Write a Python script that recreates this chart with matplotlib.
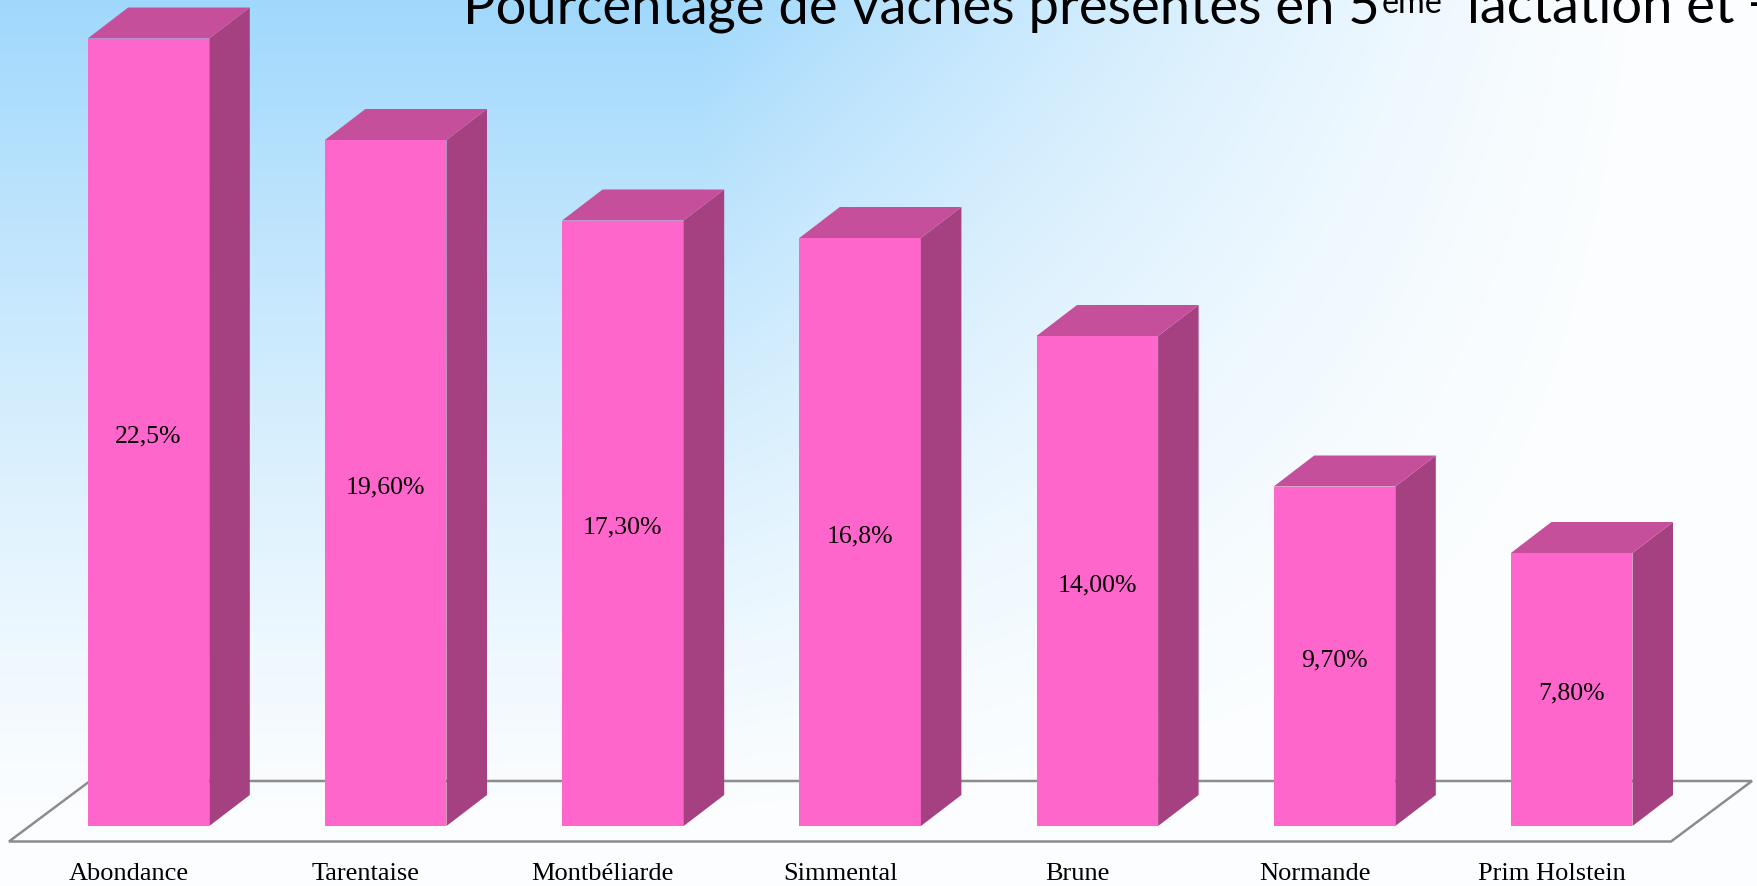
import numpy as np
import matplotlib
matplotlib.use("Agg")
from matplotlib import pyplot as plt
from matplotlib.patches import Polygon

races = ["Abondance", "Tarentaise", "Montbéliarde", "Simmental", "Brune", "Normande", "Prim Holstein"]
pourcent = [22.5, 19.6, 17.3, 16.8, 14.0, 9.7, 7.8]
etiquettes = ["22,5%", "19,60%", "17,30%", "16,8%", "14,00%", "9,70%", "7,80%"]

W, H = 1758, 886
PXX, PXY = 237.2, 35.0      # pixels per category / per percent
X0PX, Y0PX = 148.5, 826.0   # pixel of first bar centre / bar base
front, side, top = "#ff66cc", "#a54180", "#c64f9b"

fig = plt.figure(figsize=(W / 100, H / 100), dpi=100)

# background gradient
yy, xx = np.mgrid[0:H, 0:W].astype(float)
fy = np.clip(1 - yy / H, 0, 1) ** 1.3
fx = np.clip((W - xx) / (W - 700), 0, 1) ** 1.5
w = np.clip(fy * fx, 0.03, 1)[..., None]
blue = np.array([160, 216, 252]) / 255.0
img = 1 - w * (1 - blue)
bg = fig.add_axes([0, 0, 1, 1])
bg.imshow(img, aspect="auto", extent=[0, 1, 0, 1])
bg.axis("off")

ax = fig.add_axes([0, 0, 1, 1])
ax.patch.set_alpha(0)
ax.axis("off")
ax.set_xlim(-X0PX / PXX, (W - X0PX) / PXX)
ax.set_ylim(-(H - Y0PX) / PXY, Y0PX / PXY)

bw = 121.6 / PXX
dx, dy = 40.5 / PXX, 31.0 / PXY

# floor
ff, fb = -15.5 / PXY, 45.0 / PXY
fl, fr = (9 - X0PX) / PXX, (1671 - X0PX) / PXX
fdx = 81.0 / PXX
floor = Polygon([(fl, ff), (fr, ff), (fr + fdx, fb), (fl + fdx, fb)], closed=True,
                fill=False, edgecolor="#8c8c8c", lw=1.8, zorder=1)
ax.add_patch(floor)

x = np.arange(len(races))
ax.bar(x, pourcent, width=bw, color=front, zorder=3)
for xi, v, lab, name in zip(x, pourcent, etiquettes, races):
    r = xi + bw / 2
    l = xi - bw / 2
    ax.add_patch(Polygon([(r, 0), (r + dx, dy), (r + dx, v + dy), (r, v)], closed=True,
                         facecolor=side, edgecolor="none", zorder=3))
    ax.add_patch(Polygon([(l, v), (r, v), (r + dx, v + dy), (l + dx, v + dy)], closed=True,
                         facecolor=top, edgecolor="none", zorder=3))
    ax.text(xi, v / 2 - 4 / PXY, lab, ha="center", va="center", fontsize=18.5,
            family="Liberation Serif", zorder=4)
    ax.text(xi - 20 / PXX, -48 / PXY, name, ha="center", va="center", fontsize=19,
            family="Liberation Serif")

# title in pieces (superscript)
renderer = fig.canvas.get_renderer()
inv = ax.transData.inverted()
tfont = dict(family=["Lato", "DejaVu Sans"], color="black")
ty = (Y0PX - 23) / PXY


def fit(t, width):
    wd = t.get_window_extent(renderer).width
    t.set_fontsize(t.get_fontsize() * width / wd)


t1 = ax.text((463 - X0PX) / PXX, ty, "Pourcentage de vaches présentes en 5",
             fontsize=36, va="baseline", ha="left", **tfont)
fit(t1, 917)
bb = t1.get_window_extent(renderer)
t2 = ax.text(inv.transform((bb.x1 + 2, 0))[0], (Y0PX - 13) / PXY, "ème",
             fontsize=20, va="baseline", ha="left", **tfont)
fit(t2, 61)
t3 = ax.text((1467 - X0PX) / PXX, ty, "lactation et +", fontsize=t1.get_fontsize(),
             va="baseline", ha="left", **tfont)

fig.savefig("out.png", dpi=100)
